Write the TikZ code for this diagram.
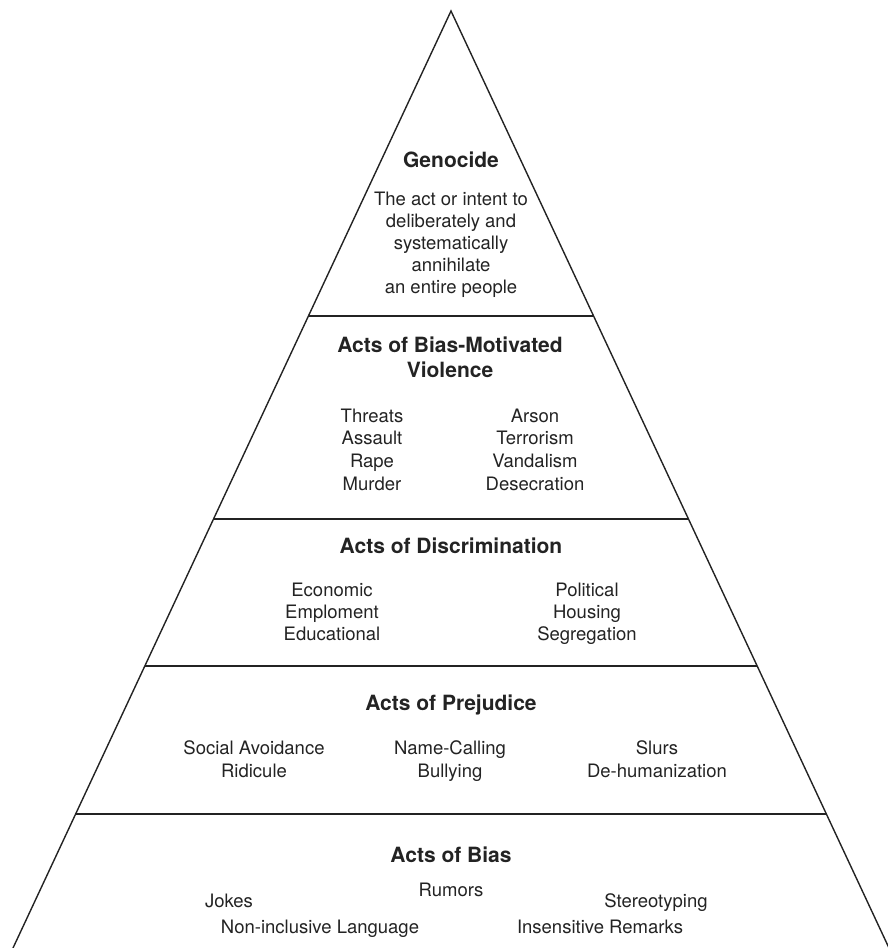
\documentclass[tikz,border=0pt]{standalone}
\usepackage{fontspec}
\setmainfont{TeX Gyre Heros}
\usetikzlibrary{calc}
\definecolor{ink}{HTML}{232323}
\begin{document}
\begin{tikzpicture}[x=1pt,y=-1pt,
  edge/.style={draw=ink,line width=1.4pt},
  tierline/.style={draw=ink,line width=1.6pt},
  title/.style={anchor=base,inner sep=0pt,text=ink,font=\fontsize{21}{25}\selectfont\bfseries},
  body/.style={anchor=base,inner sep=0pt,text=ink,font=\fontsize{18.5}{22}\selectfont}]
\useasboundingbox (0,0) rectangle (888,948);

% outline of the pyramid
\coordinate (apex) at (451,11);
\coordinate (bl) at (13,948);
\coordinate (br) at (889,948);
\draw[edge] (bl) -- (apex) -- (br);

% tier boundaries
\foreach \t/\n in {0.3255/a,0.5422/b,0.6990/c,0.8570/d}
  \draw[tierline] ($(apex)!\t!(bl)$) coordinate (\n-l) -- ($(apex)!\t!(br)$) coordinate (\n-r);

% Genocide
\node[title] (gen) at (451,167) {Genocide};
\foreach \s [count=\i] in {The act or intent to,deliberately and,systematically,annihilate,an entire people}
  \node[body] (gen-\i) at (451,{205+22*(\i-1)}) {\s};

% Acts of bias-motivated violence
\node[title] (vio-1) at (450,352) {Acts of Bias-Motivated};
\node[title] (vio-2) at (450,377) {Violence};
\foreach \s [count=\i] in {Threats,Assault,Rape,Murder}
  \node[body] (vl-\i) at (372,{422+22.7*(\i-1)}) {\s};
\foreach \s [count=\i] in {Arson,Terrorism,Vandalism,Desecration}
  \node[body] (vr-\i) at (535,{422+22.7*(\i-1)}) {\s};

% Acts of discrimination
\node[title] (dis) at (451,553) {Acts of Discrimination};
\foreach \s [count=\i] in {Economic,Emploment,Educational}
  \node[body] (dl-\i) at (332,{596+22*(\i-1)}) {\s};
\foreach \s [count=\i] in {Political,Housing,Segregation}
  \node[body] (dr-\i) at (587,{596+22*(\i-1)}) {\s};

% Acts of prejudice
\node[title] (pre) at (451,710) {Acts of Prejudice};
\node[body] (p1-1) at (254,754) {Social Avoidance};
\node[body] (p1-2) at (254,777) {Ridicule};
\node[body] (p2-1) at (450,754) {Name-Calling};
\node[body] (p2-2) at (450,777) {Bullying};
\node[body] (p3-1) at (657,754) {Slurs};
\node[body] (p3-2) at (657,777) {De-humanization};

% Acts of bias
\node[title] (bias) at (451,862) {Acts of Bias};
\node[body] (b-rum) at (451,896) {Rumors};
\node[body] (b-jok) at (229,907) {Jokes};
\node[body] (b-ste) at (656,907) {Stereotyping};
\node[body] (b-non) at (320,933) {Non-inclusive Language};
\node[body] (b-ins) at (600,933) {Insensitive Remarks};
\end{tikzpicture}
\end{document}
